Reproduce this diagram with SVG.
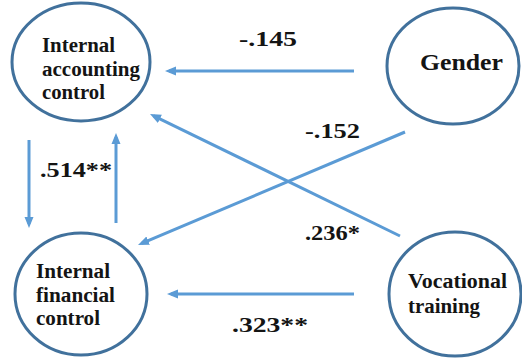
<svg xmlns="http://www.w3.org/2000/svg" width="522" height="358" viewBox="0 0 522 358">
<style>
.node{fill:#ffffff;stroke:#41719c;stroke-width:3}
.t{font-family:"Liberation Serif","Times New Roman",serif;font-weight:bold;font-size:20px;fill:#141414}
.lbl{font-family:"Liberation Serif","Times New Roman",serif;font-weight:bold;font-size:21px;fill:#141414}
.edge{stroke:#5b9bd5;stroke-width:3;fill:none;marker-end:url(#ah)}
</style>
<defs>
<marker id="ah" markerUnits="userSpaceOnUse" markerWidth="12" markerHeight="10" refX="7" refY="5" orient="auto">
<path d="M0,0.5 L11,5 L0,9.5 z" fill="#5b9bd5"/>
</marker>
</defs>
<rect width="522" height="358" fill="#ffffff"/>
<g id="edges">
<line class="edge" x1="354" y1="71" x2="169" y2="71"/>
<line class="edge" x1="354" y1="294" x2="171" y2="294"/>
<line class="edge" x1="400" y1="236" x2="153.6" y2="115.8"/>
<line class="edge" x1="405" y1="132" x2="141.7" y2="243.4"/>
<line class="edge" x1="29" y1="140" x2="29" y2="224"/>
<line class="edge" x1="116" y1="223" x2="116" y2="137"/>
</g>
<g id="labels">
<text class="lbl" x="239" y="46" textLength="58" lengthAdjust="spacingAndGlyphs">-.145</text>
<text class="lbl" x="305" y="138" textLength="55" lengthAdjust="spacingAndGlyphs">-.152</text>
<text class="lbl" x="305" y="240" textLength="55" lengthAdjust="spacingAndGlyphs">.236*</text>
<text class="lbl" x="232" y="332" textLength="76" lengthAdjust="spacingAndGlyphs">.323**</text>
<text class="lbl" x="40" y="177" textLength="72" lengthAdjust="spacingAndGlyphs">.514**</text>
</g>
<g id="internal-accounting-control">
<ellipse class="node" cx="81" cy="62" rx="69" ry="59"/>
<text class="t" x="42" y="52" textLength="73" lengthAdjust="spacingAndGlyphs">Internal</text>
<text class="t" x="42" y="76" textLength="98" lengthAdjust="spacingAndGlyphs">accounting</text>
<text class="t" x="42" y="99" textLength="63" lengthAdjust="spacingAndGlyphs">control</text>
</g>
<g id="internal-financial-control">
<ellipse class="node" cx="81" cy="294" rx="66" ry="61"/>
<text class="t" x="36" y="278" textLength="74" lengthAdjust="spacingAndGlyphs">Internal</text>
<text class="t" x="36" y="302" textLength="79" lengthAdjust="spacingAndGlyphs">financial</text>
<text class="t" x="36" y="325" textLength="64" lengthAdjust="spacingAndGlyphs">control</text>
</g>
<g id="gender">
<ellipse class="node" cx="453" cy="66" rx="66" ry="58"/>
<text class="t" x="420" y="70" style="font-size:23px" textLength="83" lengthAdjust="spacingAndGlyphs">Gender</text>
</g>
<g id="vocational-training">
<ellipse class="node" cx="455" cy="294" rx="66" ry="62"/>
<text class="t" x="408" y="288" textLength="99" lengthAdjust="spacingAndGlyphs">Vocational</text>
<text class="t" x="408" y="313" textLength="72" lengthAdjust="spacingAndGlyphs">training</text>
</g>
</svg>
